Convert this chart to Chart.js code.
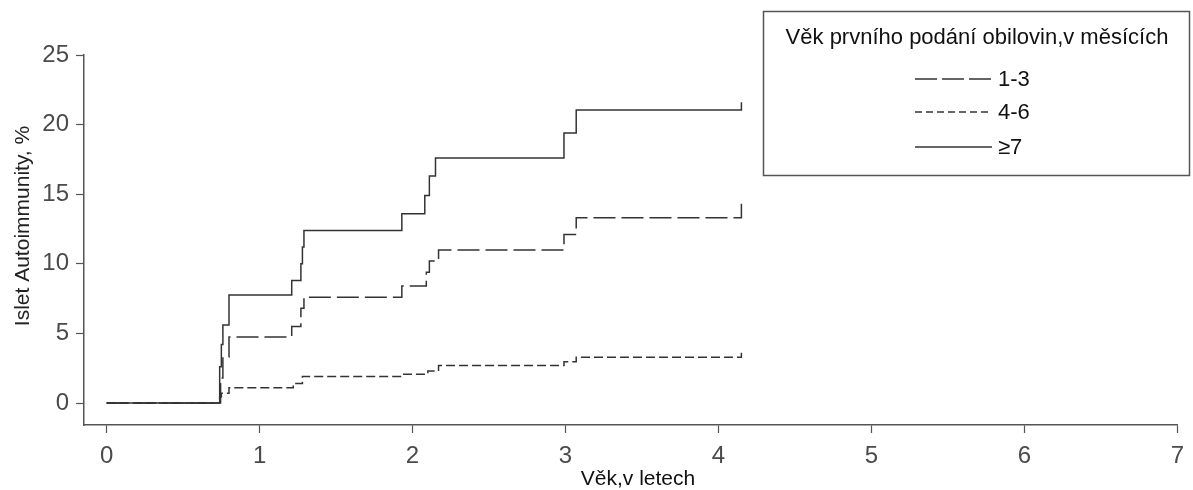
<!DOCTYPE html>
<html>
<head>
<meta charset="utf-8">
<script src="https://cdn.jsdelivr.net/npm/chart.js@4"></script>
<style>
  html, body { margin: 0; padding: 0; background: #fff; }
  #wrap { width: 1193px; height: 490px; }
</style>
</head>
<body>
<div id="wrap"><canvas id="kmChart" width="1193" height="490"></canvas></div>
<script>
// Kumulativní výskyt (Kaplan-Meier)
const seriesLabels = ['1-3', '4-6', '≥7'];

const t13   = [0, 0.745, 0.76, 0.80, 1.21, 1.27, 1.29, 1.93, 2.09, 2.11, 2.17, 2.99, 3.07, 4.15];
const pct13 = [0, 1.8,   3.3,  4.75, 5.5,  6.8,  7.6,  8.4,  9.4,  10.2, 11.0, 12.1, 13.3, 14.7];

const t46   = [0, 0.739, 0.75, 0.80, 1.22, 1.28, 1.93, 2.10, 2.17, 2.99, 3.07, 4.15];
const pct46 = [0, 0.45,  0.7,  1.1,  1.4,  1.9,  2.06, 2.3,  2.7,  2.97, 3.28, 3.8];

const t7    = [0, 0.739, 0.75, 0.76, 0.80, 1.21, 1.27, 1.28, 1.29, 1.93, 2.08, 2.11, 2.15, 2.99, 3.07, 4.15];
const pct7  = [0, 2.6,   4.2,  5.6,  7.75, 8.8,  10.0, 11.2, 12.4, 13.6, 14.9, 16.3, 17.6, 19.4, 21.05, 21.6];

const xTicks = [0, 1, 2, 3, 4, 5, 6, 7];
const yTicks = [0, 5, 10, 15, 20, 25];

const legendTitle = 'Věk prvního podání obilovin,v měsících';
const xTitle = 'Věk,v letech';
const yTitle = 'Islet Autoimmunity, %';

const FONT = '"Liberation Sans", Arial, sans-serif';
const AXIS = '#555';

const pts = (xs, ys) => xs.map((x, i) => ({ x, y: ys[i] }));

const textPlugin = {
  id: 'textPlugin',
  afterDraw(chart) {
    const ctx = chart.ctx;
    ctx.save();

    // y title
    ctx.fillStyle = '#222';
    ctx.font = `21px ${FONT}`;
    ctx.textAlign = 'center';
    ctx.textBaseline = 'middle';
    ctx.translate(23, 226);
    ctx.rotate(-Math.PI / 2);
    ctx.fillText(yTitle, 0, 0);
    ctx.setTransform(1, 0, 0, 1, 0, 0);

    // x title
    ctx.fillStyle = '#111';
    ctx.font = `21px ${FONT}`;
    ctx.fillText(xTitle, 638, 479);

    // legend box
    ctx.strokeStyle = AXIS;
    ctx.lineWidth = 1.5;
    ctx.strokeRect(763.5, 11.5, 426, 164);
    ctx.fillStyle = '#111';
    ctx.font = `22px ${FONT}`;
    ctx.fillText(legendTitle, 977, 38);

    const rows = [79, 112, 147];
    chart.data.datasets.forEach((ds, i) => {
      ctx.beginPath();
      ctx.strokeStyle = ds.borderColor;
      ctx.lineWidth = 1.3;
      ctx.setLineDash(ds.legendDash);
      ctx.moveTo(915, rows[i]);
      ctx.lineTo(992, rows[i]);
      ctx.stroke();
      ctx.setLineDash([]);
      ctx.textAlign = 'left';
      ctx.font = `22px ${FONT}`;
      ctx.fillStyle = '#111';
      ctx.fillText(ds.label, 998, rows[i] + 1);
    });
    ctx.restore();
  }
};

new Chart(document.getElementById('kmChart'), {
  type: 'line',
  data: {
    datasets: [
      { label: seriesLabels[0], data: pts(t13, pct13), borderDash: [22, 6], legendDash: [22, 5], order: 1 },
      { label: seriesLabels[1], data: pts(t46, pct46), borderDash: [9, 4], legendDash: [7, 4], order: 2 },
      { label: seriesLabels[2], data: pts(t7, pct7), borderDash: [], legendDash: [], order: 0 },
    ].map(d => ({ ...d, stepped: true, borderColor: '#333', borderWidth: 1.5, pointRadius: 0, fill: false })),
  },
  options: {
    responsive: false,
    animation: false,
    devicePixelRatio: 1,
    layout: { padding: { top: 55, right: 13, left: 0, bottom: 0 } },
    plugins: { legend: { display: false }, tooltip: { enabled: false } },
    scales: {
      x: {
        type: 'linear',
        min: -0.148, max: 7,
        afterBuildTicks: s => { s.ticks = xTicks.map(v => ({ value: v })); },
        afterFit: s => { s.height = 65; },
        border: { display: true, color: AXIS, width: 1.5 },
        grid: { drawOnChartArea: false, drawTicks: true, tickLength: 8, color: AXIS, tickWidth: 1.2 },
        ticks: { color: '#4a4a4a', font: { family: FONT, size: 24 }, padding: 9, maxRotation: 0 },
      },
      y: {
        type: 'linear',
        min: -1.58, max: 25,
        afterBuildTicks: s => { s.ticks = yTicks.map(v => ({ value: v })); },
        afterFit: s => { s.width = 84; },
        border: { display: true, color: AXIS, width: 1.5 },
        grid: { drawOnChartArea: false, drawTicks: true, tickLength: 8, color: AXIS, tickWidth: 1.2 },
        ticks: { color: '#4a4a4a', font: { family: FONT, size: 24 }, padding: 7 },
      },
    },
  },
  plugins: [textPlugin],
});
</script>
</body>
</html>
